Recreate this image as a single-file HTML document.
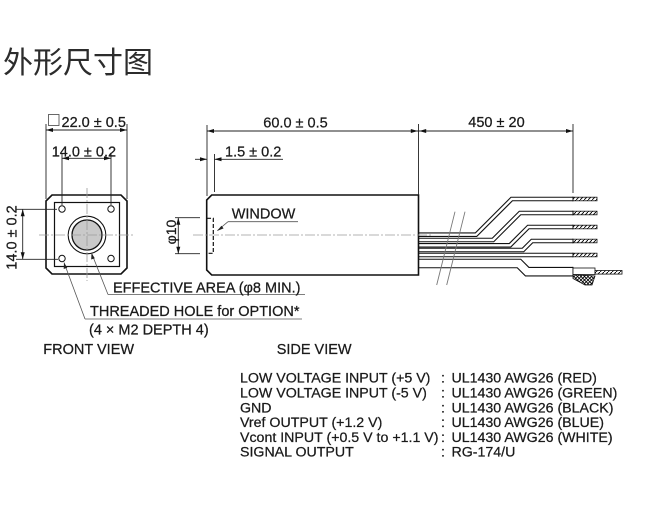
<!DOCTYPE html>
<html><head><meta charset="utf-8"><style>
html,body{margin:0;padding:0;background:#fff;}
svg{display:block;}
text{font-family:"Liberation Sans",Arial,sans-serif;fill:#1a1a1a;stroke:#1a1a1a;stroke-width:0.25px;}
</style></head><body>
<svg width="658" height="521" viewBox="0 0 658 521" xmlns="http://www.w3.org/2000/svg">
<defs>
<pattern id="h" width="4" height="4" patternUnits="userSpaceOnUse"><path d="M-1,5 L5,-1" stroke="#000" stroke-width="0.9"/></pattern>
<pattern id="xh" width="3.5" height="3.5" patternUnits="userSpaceOnUse"><path d="M0,3.5 L3.5,0 M0,0 L3.5,3.5" stroke="#000" stroke-width="0.8"/></pattern>
</defs>
<rect width="658" height="521" fill="#fff"/>

<!-- Title -->
<text x="3" y="73" style="font-family:'Noto Sans CJK SC','WenQuanYi Zen Hei',sans-serif;font-size:30px;fill:#2c2c2c;stroke:none">外形尺寸图</text>

<!-- ===== FRONT VIEW ===== -->
<g fill="none" stroke="#111">
<path d="M52,195 H121 L127,201 V268 L121,274 H52 L46,268 V201 Z" stroke-width="1.6"/>
<rect x="54.5" y="202.5" width="65" height="64" stroke-width="1.2"/>
<circle cx="62" cy="209" r="3.2" stroke-width="1"/>
<circle cx="111" cy="209" r="3.2" stroke-width="1"/>
<circle cx="62" cy="258.5" r="3.2" stroke-width="1"/>
<circle cx="111" cy="258.5" r="3.2" stroke-width="1"/>
<circle cx="87" cy="235" r="18.8" stroke-width="1.1"/>
<circle cx="87" cy="235" r="15" fill="#c9c9c9" stroke-width="1.3"/>
</g>
<g stroke="#9a9a9a" stroke-width="0.8" fill="none" stroke-dasharray="10 2 2 2">
<line x1="39" y1="235" x2="133" y2="235"/>
<line x1="87" y1="188" x2="87" y2="281"/>
</g>

<!-- front dims -->
<g stroke="#222" stroke-width="0.9" fill="none">
<line x1="46" y1="130" x2="127" y2="130"/>
<line x1="46" y1="124" x2="46" y2="199"/>
<line x1="127" y1="124" x2="127" y2="199"/>
<line x1="62" y1="158.3" x2="111" y2="158.3"/>
<line x1="62" y1="154" x2="62" y2="205"/>
<line x1="111" y1="154" x2="111" y2="205"/>
<line x1="22.7" y1="209.3" x2="22.7" y2="259.3"/>
<line x1="16" y1="209.3" x2="57" y2="209.3"/>
<line x1="16" y1="259.3" x2="58" y2="259.3"/>
</g>
<g fill="#111">
<polygon points="46,130 53,128 53,132"/>
<polygon points="127,130 120,128 120,132"/>
<polygon points="62,158.3 69,156.3 69,160.3"/>
<polygon points="111,158.3 104,156.3 104,160.3"/>
<polygon points="22.7,209.3 20.7,216.3 24.7,216.3"/>
<polygon points="22.7,259.3 20.7,252.3 24.7,252.3"/>
</g>
<rect x="48.5" y="114.5" width="10.5" height="11" fill="none" stroke="#444" stroke-width="0.8"/>
<text x="61.5" y="127" font-size="14.5">22.0 ± 0.5</text>
<text x="51.7" y="156.5" font-size="14.5">14.0 ± 0.2</text>
<text transform="translate(16.5,237.5) rotate(-90)" text-anchor="middle" font-size="14.5">14.0 ± 0.2</text>

<!-- leaders front -->
<g stroke="#555" stroke-width="0.8" fill="none">
<line x1="108" y1="294.5" x2="305" y2="294.5"/>
<line x1="108" y1="294.5" x2="91.5" y2="253"/>
<line x1="85" y1="319" x2="302" y2="319"/>
<line x1="85" y1="319" x2="64" y2="262.5"/>
</g>
<g fill="#222">
<polygon points="91.5,253 91.2,259.5 94.8,258.2"/>
<polygon points="64,262.5 63.7,269 67.3,267.7"/>
</g>
<text x="113" y="292.3" font-size="14.5">EFFECTIVE AREA (φ8 MIN.)</text>
<text x="90" y="316" font-size="14.5">THREADED HOLE for OPTION*</text>
<text x="89" y="334.5" font-size="14.5">(4 × M2 DEPTH 4)</text>
<text x="43.3" y="354" font-size="14.5">FRONT VIEW</text>
<text x="276.7" y="354" font-size="14.5">SIDE VIEW</text>

<!-- ===== SIDE VIEW ===== -->
<!-- cables -->
<g fill="none" stroke-linejoin="miter">
<path d="M419,234.7 H476 L511.7,199 H573" stroke="#111" stroke-width="4.6"/>
<path d="M419,234.7 H476 L511.7,199 H573" stroke="#fff" stroke-width="2.4"/>
<path d="M419,240 H493 L520,213 H573" stroke="#111" stroke-width="4.6"/>
<path d="M419,240 H493 L520,213 H573" stroke="#fff" stroke-width="2.4"/>
<path d="M419,245.3 H510 L528.3,227 H573" stroke="#111" stroke-width="4.6"/>
<path d="M419,245.3 H510 L528.3,227 H573" stroke="#fff" stroke-width="2.4"/>
<path d="M419,250 H523 L532,241 H573" stroke="#111" stroke-width="4.6"/>
<path d="M419,250 H523 L532,241 H573" stroke="#fff" stroke-width="2.4"/>
<path d="M419,255 H573" stroke="#111" stroke-width="4.6"/>
<path d="M419,255 H573" stroke="#fff" stroke-width="2.4"/>
<path d="M419,263.5 H519 L527.2,271.7 H573" stroke="#111" stroke-width="9.6"/>
<path d="M419,263.5 H519 L527.2,271.7 H573" stroke="#fff" stroke-width="7.4"/>
</g>
<!-- cable end caps -->
<g stroke="#111" stroke-width="1">
<line x1="573" y1="196.7" x2="573" y2="201.3"/>
<line x1="573" y1="210.7" x2="573" y2="215.3"/>
<line x1="573" y1="224.7" x2="573" y2="229.3"/>
<line x1="573" y1="238.7" x2="573" y2="243.3"/>
<line x1="573" y1="252.7" x2="573" y2="257.3"/>
<line x1="573" y1="266.9" x2="573" y2="276.5"/>
</g>
<!-- tips -->
<g fill="url(#h)" stroke="#111" stroke-width="0.8">
<rect x="573" y="197.2" width="24" height="3.6"/>
<rect x="573" y="211.2" width="24" height="3.6"/>
<rect x="573" y="225.2" width="24" height="3.6"/>
<rect x="573" y="239.2" width="24" height="3.6"/>
<rect x="573" y="253.2" width="24" height="3.6"/>
<polygon points="573,274.5 595,276 592,285 585,285 573,278.5" fill="url(#xh)"/>
<rect x="573" y="268" width="22" height="6.5" fill="#fff"/>
<rect x="595" y="270.5" width="27" height="3.6"/>
</g>
<!-- break marks -->
<g stroke="#777" stroke-width="0.9">
<line x1="455" y1="211.7" x2="436.7" y2="285"/>
<line x1="465" y1="211.7" x2="446.7" y2="285"/>
</g>

<!-- body -->
<path d="M211.7,195 H418.5 V275 H211.7 L206.7,270 V200 Z" fill="#fff" stroke="#111" stroke-width="1.6"/>
<path d="M207,218.3 H213.3 V253.3 H207" fill="none" stroke="#111" stroke-width="1.2" stroke-dasharray="4 2"/>
<line x1="193" y1="235" x2="433" y2="235" stroke="#9a9a9a" stroke-width="0.8" stroke-dasharray="10 2 2 2"/>

<!-- side dims -->
<g stroke="#222" stroke-width="0.9" fill="none">
<line x1="207" y1="131" x2="418.5" y2="131"/>
<line x1="418.5" y1="131" x2="573" y2="131"/>
<line x1="207" y1="125" x2="207" y2="196"/>
<line x1="418.5" y1="124" x2="418.5" y2="195"/>
<line x1="573" y1="124" x2="573" y2="193"/>
<line x1="195" y1="159.3" x2="207" y2="159.3"/>
<line x1="214.5" y1="159.3" x2="283" y2="159.3"/>
<line x1="214.5" y1="154" x2="214.5" y2="192"/>
<line x1="178.3" y1="217.7" x2="178.3" y2="253.7"/>
<line x1="175" y1="217.7" x2="200" y2="217.7"/>
<line x1="175" y1="253.7" x2="200" y2="253.7"/>
</g>
<g fill="#111">
<polygon points="207,131 214,129 214,133"/>
<polygon points="417.8,131 410.8,129 410.8,133"/>
<polygon points="419.2,131 426.2,129 426.2,133"/>
<polygon points="573,131 566,129 566,133"/>
<polygon points="207,159.3 200,157.3 200,161.3"/>
<polygon points="214.5,159.3 221.5,157.3 221.5,161.3"/>
<polygon points="178.3,217.7 176.3,224.7 180.3,224.7"/>
<polygon points="178.3,253.7 176.3,246.7 180.3,246.7"/>
</g>
<text x="263.3" y="127.5" font-size="14.5">60.0 ± 0.5</text>
<text x="468.3" y="127" font-size="14.5">450 ± 20</text>
<text x="225" y="156.5" font-size="14.5">1.5 ± 0.2</text>
<text transform="translate(176,232) rotate(-90)" text-anchor="middle" font-size="14">φ10</text>

<!-- window label -->
<g stroke="#555" stroke-width="0.8" fill="none">
<line x1="228" y1="221.7" x2="298" y2="221.7"/>
<line x1="228" y1="221.7" x2="217.5" y2="230.5"/>
</g>
<polygon points="217,231 221.5,225.8 223.6,228.4" fill="#222"/>
<text x="231.7" y="218.3" font-size="14.5">WINDOW</text>

<!-- table -->
<g font-size="14.2">
<text x="240" y="382.7">LOW VOLTAGE INPUT (+5 V)</text>
<text x="240" y="397.5">LOW VOLTAGE INPUT (-5 V)</text>
<text x="240" y="412.3">GND</text>
<text x="240" y="427.1">Vref OUTPUT (+1.2 V)</text>
<text x="240" y="441.9">Vcont INPUT (+0.5 V to +1.1 V)</text>
<text x="240" y="456.7">SIGNAL OUTPUT</text>
<text x="441" y="382.7">:</text>
<text x="441" y="397.5">:</text>
<text x="441" y="412.3">:</text>
<text x="441" y="427.1">:</text>
<text x="441" y="441.9">:</text>
<text x="441" y="456.7">:</text>
<text x="451.5" y="382.7">UL1430 AWG26 (RED)</text>
<text x="451.5" y="397.5">UL1430 AWG26 (GREEN)</text>
<text x="451.5" y="412.3">UL1430 AWG26 (BLACK)</text>
<text x="451.5" y="427.1">UL1430 AWG26 (BLUE)</text>
<text x="451.5" y="441.9">UL1430 AWG26 (WHITE)</text>
<text x="451.5" y="456.7">RG-174/U</text>
</g>
</svg>
</body></html>
